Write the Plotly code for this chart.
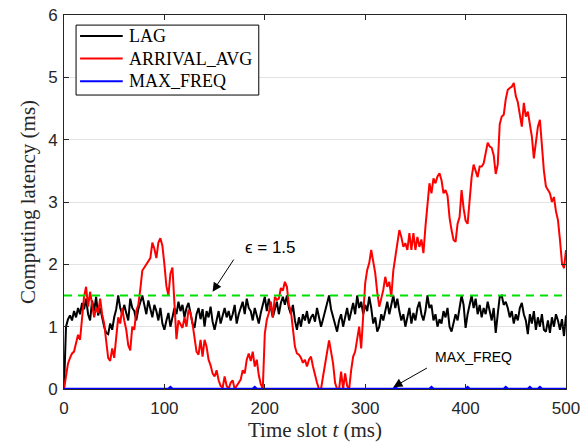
import plotly.graph_objects as go

# time slots (ms), sampled every 2 slots
t = list(range(0, 501, 2))

lag = [
    0.0, 1.0, 1.12, 1.18, 1.1, 1.25, 1.15, 1.3, 1.2, 1.38,
    1.28, 1.45, 1.2, 1.1, 1.42, 1.25, 1.48, 1.18, 1.3, 1.12,
    1.0, 0.9, 0.88, 1.05, 0.95, 1.15, 1.28, 1.5, 1.3, 1.2,
    1.35, 1.22, 1.1, 1.45, 1.3, 1.25, 1.1, 1.28, 1.4, 1.5,
    1.35, 1.2, 1.42, 1.3, 1.15, 1.35, 1.25, 1.1, 1.3, 1.05,
    0.95, 1.1, 1.22, 1.0, 1.15, 1.3, 1.2, 1.4, 1.25, 1.35,
    1.15, 1.3, 1.38, 1.2, 1.05, 0.98, 1.2, 1.3, 1.12, 1.28,
    1.0, 1.25, 1.15, 1.32, 1.08, 0.95, 1.1, 1.25, 1.05, 1.18,
    1.3, 1.15, 1.25, 1.1, 1.2, 1.35, 1.05, 1.2, 1.3, 1.4,
    1.2, 1.45, 1.3, 1.25, 1.1, 1.3, 1.18, 1.05, 1.22, 1.35,
    1.48, 1.25, 1.45, 1.3, 1.15, 1.28, 1.4, 1.2, 1.38, 1.48,
    1.35, 1.5, 1.3, 1.2, 1.35, 1.1, 0.95, 1.15, 1.0, 1.2,
    1.1, 1.25, 1.05, 1.15, 1.2, 1.08, 1.3, 1.15, 1.0, 1.12,
    1.25, 1.4, 1.5, 1.28, 1.15, 1.05, 0.92, 1.1, 1.2, 1.0,
    1.15, 1.3, 1.1, 1.25, 1.38, 1.2, 1.5, 1.3, 1.4, 1.2,
    1.35, 1.25, 1.48, 1.3, 1.05, 1.15, 0.92, 1.0, 1.2, 1.1,
    1.28, 1.4, 1.2, 1.35, 1.5, 1.3, 1.45, 1.25, 1.1, 1.2,
    1.0, 1.15, 1.3, 1.05, 1.22, 1.1, 1.3, 1.4, 1.2, 1.1,
    1.25, 1.5, 1.3, 1.35, 1.1, 1.2, 1.0, 1.12, 1.05, 1.25,
    1.15, 1.3, 1.0, 0.92, 1.05, 1.2, 1.1, 1.3, 1.5, 1.35,
    0.98, 1.2, 1.35, 1.5, 1.3, 1.45, 1.2, 1.35, 1.15, 1.3,
    1.2, 1.4, 1.25, 1.1, 1.3, 0.9, 1.2, 1.48, 1.5, 1.35,
    1.4, 1.3, 1.15, 1.25, 1.05, 1.2, 1.1, 1.3, 1.38, 1.2,
    1.1, 0.88, 1.2, 1.05, 1.25, 0.95, 1.15, 1.0, 1.2, 0.95,
    0.92, 1.1, 0.9, 1.15, 1.0, 1.2, 1.1, 0.95, 1.12, 0.85,
    1.18,
]

arrival_avg = [
    0.0, 0.2, 0.41, 0.5, 0.57, 0.6, 0.75, 0.87, 0.79, 1.16,
    1.48, 1.64, 1.32, 1.56, 1.35, 1.15, 1.3, 1.22, 1.45, 1.2,
    1.05, 0.75, 0.5, 0.45, 0.65, 0.5, 0.85, 1.15, 1.05, 1.3,
    1.1, 0.95, 0.7, 0.62, 1.0, 0.95, 1.25, 1.35, 1.6, 1.9,
    1.95, 2.0, 2.05, 2.1, 2.35, 2.25, 2.1, 2.35, 2.42, 2.3,
    2.0, 1.65, 1.5, 1.85, 1.95, 1.4, 0.8, 1.1, 1.05, 0.98,
    1.15, 1.0, 1.27, 1.22, 1.05, 0.84, 0.6, 0.55, 0.79, 0.52,
    0.79, 0.68, 0.47, 0.38, 0.25, 0.2, 0.3, 0.14, 0.05, 0.02,
    0.2, 0.05, 0.0, 0.1, 0.14, 0.0, 0.05, 0.09, 0.15, 0.3,
    0.25, 0.47, 0.57, 0.45, 0.6, 0.36, 0.47, 0.22, 0.08, 0.0,
    0.89, 1.11, 1.22, 1.4, 1.15, 1.48, 1.43, 1.45, 1.62, 1.58,
    1.72, 1.64, 1.35, 1.25, 0.95, 0.68, 0.57, 0.55, 0.5, 0.42,
    0.47, 0.36, 0.47, 0.52, 0.36, 0.2, 0.1, 0.0, 0.0, 0.2,
    0.41, 0.63, 0.78, 0.6, 0.41, 0.1, 0.0, 0.0, 0.28, 0.0,
    0.25, 0.05, 0.0, 0.3, 0.52, 0.6, 0.84, 1.0, 0.65, 1.27,
    1.7, 1.91, 2.02, 2.23, 2.07, 1.86, 1.55, 1.32, 1.45, 1.59,
    1.8, 1.64, 1.72, 1.48, 1.9, 2.12, 2.35, 2.55, 2.44, 2.28,
    2.34, 2.23, 2.5, 2.23, 2.5, 2.23, 2.44, 2.28, 2.4, 2.18,
    2.6, 3.0, 3.3, 3.14, 3.38, 3.3, 3.41, 3.46, 3.35, 3.14,
    3.19, 3.1, 2.75, 2.55, 2.39, 2.36, 2.65, 2.76, 3.19, 2.9,
    2.7, 2.65, 3.03, 3.4, 3.6, 3.5, 3.4, 3.57, 3.57, 3.62,
    3.8, 3.95, 3.89, 3.87, 3.75, 3.45, 3.6, 4.25, 4.37, 4.4,
    4.65, 4.8, 4.83, 4.85, 4.91, 4.7, 4.6, 4.4, 4.21, 4.59,
    4.37, 4.45, 4.21, 4.05, 3.7, 4.0, 4.21, 4.32, 3.89, 3.5,
    3.25, 3.19, 3.14, 3.0, 3.08, 2.85, 2.71, 2.39, 2.02, 1.94,
    2.23,
]

# MAX_FREQ sits on zero with a few tiny blips
t_freq = [0, 104, 106, 108, 188, 190, 192, 328, 330, 332, 364, 366, 368,
          400, 402, 404, 438, 440, 442, 462, 464, 466, 472, 474, 476, 500]
max_freq = [0, 0, 0.03, 0, 0, 0.03, 0, 0, 0.03, 0, 0, 0.03, 0,
            0, 0.03, 0, 0, 0.03, 0, 0, 0.03, 0, 0, 0.03, 0, 0]

eps_t = [0, 500]
eps = [1.5, 1.5]

names = ['LAG', 'ARRIVAL_AVG', 'MAX_FREQ']
colors = ['black', '#ff0000', '#0000ff']

SERIF = 'Liberation Serif'
SANS = 'Liberation Sans, Arial'
INK = '#262626'

fig = go.Figure()
for name, ys, xs, col, w in zip(names, [lag, arrival_avg, max_freq], [t, t, t_freq],
                                colors, [2, 2, 2.5]):
    fig.add_trace(go.Scatter(x=xs, y=ys, mode='lines', name=name, showlegend=False,
                             line=dict(color=col, width=w)))
fig.add_trace(go.Scatter(x=eps_t, y=eps, mode='lines', showlegend=False,
                         line=dict(color='#00e000', width=2, dash='8px,6px')))

# epsilon label + arrow
fig.add_annotation(x=206, y=2.27, text='ϵ = 1.5', showarrow=False,
                   font=dict(family=SANS, size=17, color='black'))
fig.add_annotation(x=148, y=1.56, ax=170, ay=2.1, axref='x', ayref='y', text='',
                   showarrow=True, arrowhead=2, arrowsize=1.8, arrowwidth=1, arrowcolor='black')
# MAX_FREQ label + arrow
fig.add_annotation(x=408, y=0.51, text='MAX_FREQ', showarrow=False,
                   font=dict(family=SANS, size=14, color='black'))
fig.add_annotation(x=328, y=0.03, ax=363, ay=0.35, axref='x', ayref='y', text='',
                   showarrow=True, arrowhead=2, arrowsize=1.8, arrowwidth=1, arrowcolor='black')

# hand-drawn legend box (MATLAB style, tight rows)
fig.add_shape(type='rect', xref='paper', yref='paper', x0=0.024, x1=0.388, y0=0.786, y1=0.973,
              line=dict(color='black', width=1), fillcolor='white', layer='above')
for i, (name, col) in enumerate(zip(names, colors)):
    yy = 0.944 - i * 0.0605
    fig.add_shape(type='line', xref='paper', yref='paper', x0=0.032, x1=0.117, y0=yy, y1=yy,
                  line=dict(color=col, width=2), layer='above')
    fig.add_annotation(xref='paper', yref='paper', x=0.125, y=yy, text=name, showarrow=False,
                       xanchor='left', yanchor='middle',
                       font=dict(family=SERIF, size=18, color='black'))

fig.update_layout(
    width=587, height=446,
    margin=dict(l=64, r=21, t=15, b=57, autoexpand=False),
    paper_bgcolor='white', plot_bgcolor='white',
    showlegend=False,
)
fig.update_xaxes(range=[0, 500], tickvals=[0, 100, 200, 300, 400, 500],
                 ticks='inside', ticklen=5, tickcolor=INK, mirror='ticks',
                 showline=True, linecolor=INK, linewidth=1, showgrid=False, zeroline=False,
                 automargin=False, ticklabelstandoff=4, ticklabeloverflow='allow',
                 tickfont=dict(family=SANS, size=17, color=INK),
                 title=dict(text='Time slot <i>t</i> (ms)', standoff=4,
                            font=dict(family=SERIF, size=21, color=INK)))
fig.update_yaxes(range=[0, 6], tickvals=[0, 1, 2, 3, 4, 5, 6],
                 ticks='inside', ticklen=5, tickcolor=INK, mirror='ticks',
                 showline=True, linecolor=INK, linewidth=1,
                 showgrid=True, gridcolor='#e3e3e3', gridwidth=1, zeroline=False,
                 automargin=False, ticklabelstandoff=2, ticklabeloverflow='allow',
                 tickfont=dict(family=SANS, size=17, color=INK),
                 title=dict(text='Computing latency (ms)', standoff=6,
                            font=dict(family=SERIF, size=21, color=INK)))

# drop the page's default 8px body margin so the figure fills the window
fig.write_html("out.html", config={'displayModeBar': False},
               post_script="document.body.style.margin='0px';")
